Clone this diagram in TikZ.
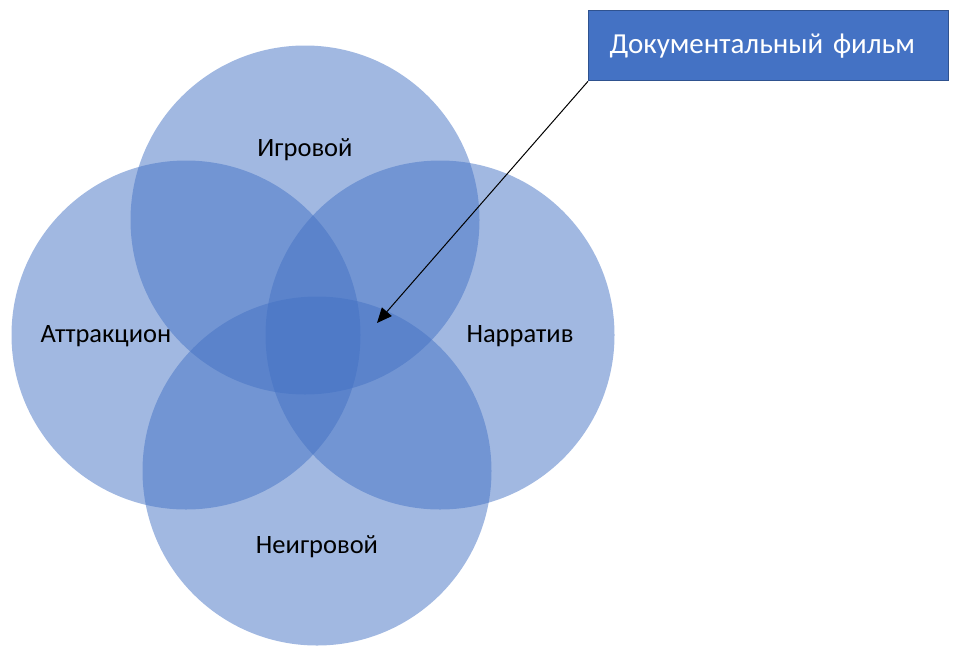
\documentclass[tikz,border=0pt]{standalone}
\usepackage{fontspec}
\setmainfont{Carlito}
\usetikzlibrary{arrows.meta}
\definecolor{venn}{RGB}{68,114,196}
\definecolor{venndark}{RGB}{47,82,143}

\begin{document}
\begin{tikzpicture}[x=1pt,y=-1pt,
 ring/.style={circle,minimum size=349pt,inner sep=0pt,fill=venn,fill opacity=.5},
 lbl/.style={font=\fontsize{26.5}{30}\selectfont,text=black},
 doc/.style={anchor=north west,minimum width=360pt,minimum height=70pt,inner sep=0pt,text width=318pt,align=left,fill=venn,draw=venndark,line width=1.3pt,text=white,font=\fontsize{29}{34}\selectfont},
 arr/.style={-{Triangle[length=15pt,width=13pt]},line width=1pt,draw=black}]
\useasboundingbox (0,0) rectangle (973,646);
\node[ring] (top) at (305,220) {};
\node[ring] (left) at (186,335) {};
\node[ring] (right) at (440,335) {};
\node[ring] (bottom) at (317,471) {};
\node[lbl] (igr) at (305,150) {Игровой};
\node[lbl] (attr) at (106,336) {Аттракцион};
\node[lbl] (narr) at (520,336) {Нарратив};
\node[lbl] (neigr) at (317,547) {Неигровой};
\node[doc] (docfilm) at (588,10) {Документальный фильм};
\coordinate (tip) at (377,323);
\draw[arr] (docfilm.south west) -- (tip);
\end{tikzpicture}
\end{document}
